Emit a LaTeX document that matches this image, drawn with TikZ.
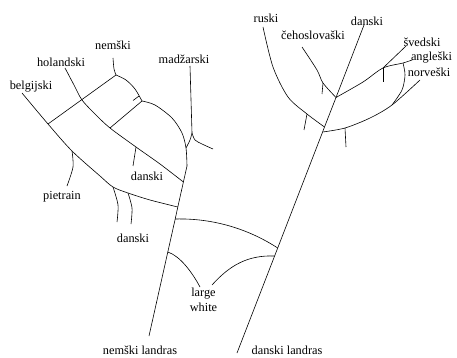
\documentclass[tikz,border=0pt]{standalone}
\usepackage{fontspec}
\setmainfont{Liberation Serif}
\begin{document}
\begin{tikzpicture}[x=1pt,y=-1pt,line width=0.6pt,
    raca/.style={inner sep=0pt,font=\rmfamily\fontsize{12.3}{15}\selectfont}]
    \useasboundingbox (0,0) rectangle (457,358);

    % rótulos
    \node[raca] (nemski) at (113,45) {nemški};
    \node[raca] (holandski) at (61,62) {holandski};
    \node[raca] (belgijski) at (31,87) {belgijski};
    \node[raca] (madzarski) at (184,59) {madžarski};
    \node[raca] (danskiA) at (147,176) {danski};
    \node[raca] (pietrain) at (62,197) {pietrain};
    \node[raca] (danskiB) at (133,238) {danski};
    \node[raca,align=center] (large) at (203.5,300) {large\\white};
    \node[raca] (nemlandras) at (140,350) {nemški landras};
    \node[raca] (danlandras) at (287,350) {danski landras};
    \node[raca] (ruski) at (266,18) {ruski};
    \node[raca] (ceho) at (313,35) {čehoslovaški};
    \node[raca] (danskiC) at (367,21) {danski};
    \node[raca] (svedski) at (422,42) {švedski};
    \node[raca] (angleski) at (431.5,58) {angleški};
    \node[raca] (norveski) at (429,72) {norveški};

    % tronco esquerdo
    \coordinate (N) at (116,75);
    \coordinate (A) at (142,101);
    \coordinate (M) at (186,148);
    \coordinate (T) at (187,166);
    \coordinate (H1) at (183.4,182);
    \coordinate (B1) at (177.8,207);
    \coordinate (C1) at (175.2,219);
    \coordinate (W1) at (167.8,252);
    \coordinate (LB) at (149,336);
    \draw plot[smooth] coordinates {(113,58) (114,69) (N)};
    \draw plot[smooth] coordinates {(N) (126,80) (135,89) (A)};
    \draw plot[smooth] coordinates {(A) (155,105) (172,118) (182,133) (M) (T)};
    \draw (T) -- (H1) -- (B1) -- (C1) -- (W1) -- (LB);
    \draw (139,96) -- (133,100.5);

    % madžarski
    \coordinate (F) at (192,133);
    \draw (190,66) -- (F);
    \draw plot[smooth] coordinates {(F) (190,140) (M)};
    \draw plot[smooth] coordinates {(F) (195,140) (202,144) (213,149)};

    % holandski
    \coordinate (Hh) at (110,128);
    \coordinate (Hd) at (136,147);
    \draw plot[smooth] coordinates {(65,68) (74,85) (82,100) (95,114) (Hh) (Hd) (160,164) (H1)};
    \draw (A) -- (Hh);
    \draw (Hd) -- (133,166);

    % belgijski
    \coordinate (Bn) at (48,124);
    \coordinate (Bp) at (72,151);
    \coordinate (Bd1) at (113,187);
    \coordinate (Bd2) at (128,193);
    \draw plot[smooth] coordinates {(22,93) (Bn) (Bp) (100,176) (Bd1) (Bd2) (150,200) (B1)};
    \draw (N) -- (Bn);
    \draw plot[smooth] coordinates {(Bp) (73,167) (67,186)};
    \draw plot[smooth] coordinates {(Bd1) (118,205) (117,222)};
    \draw plot[smooth] coordinates {(Bd2) (132,208) (131,224)};

    % tronco direito
    \coordinate (RB) at (237,353);
    \coordinate (J2) at (274.6,256);
    \coordinate (J1) at (277.7,248);
    \coordinate (R1) at (322.6,132);
    \coordinate (Rr) at (324.5,127);
    \coordinate (R2) at (336,97.5);
    \coordinate (RT) at (364,25);
    \draw (RB) -- (J2) -- (J1) -- (R1) -- (Rr) -- (R2) -- (RT);

    % ligações
    \draw (C1) .. controls (215,218) and (250,230) .. (J1);
    \draw (W1) .. controls (180,256) and (192,272) .. (200,287);
    \draw (J2) .. controls (248,255) and (230,265) .. (212,285);

    % ruski, čehoslovaški
    \coordinate (Rk) at (307,114);
    \coordinate (Ck) at (323,83);
    \draw plot[smooth] coordinates {(263,27) (273,67) (288,97) (Rk) (Rr)};
    \draw (Rk) -- (304,130);
    \draw plot[smooth] coordinates {(302,47) (317,70) (Ck) (R2)};
    \draw (Ck) -- (322,94);

    % ramos da direita
    \coordinate (S) at (383,68);
    \coordinate (G) at (403,63);
    \coordinate (Lk) at (345,128);
    \coordinate (Nv) at (392,105);
    \draw plot[smooth] coordinates {(R2) (363,82) (S) (G) (412,60)};
    \draw (S) -- (406,46);
    \draw (S) -- (383,82);
    \draw plot[smooth] coordinates {(G) (405,75) (402,90) (Nv)};
    \draw plot[smooth] coordinates {(R1) (Lk) (370,118) (Nv) (420,80)};
    \draw (Lk) -- (346,147);
\end{tikzpicture}
\end{document}
